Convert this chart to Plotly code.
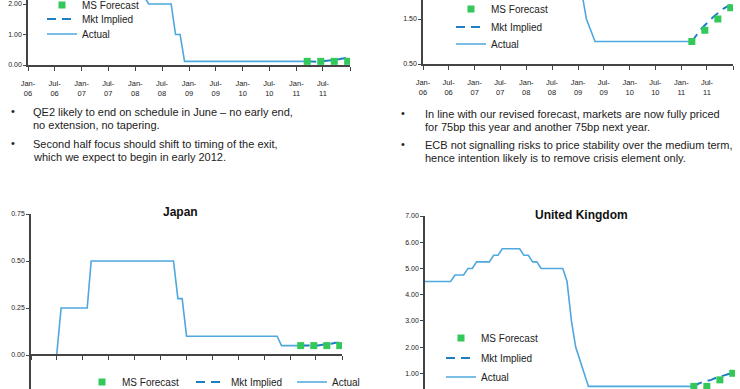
import pandas as pd
import plotly.graph_objects as go

W, H = 740, 389

# ---------------- data ----------------
actual_dates = [d.strftime("%Y-%m-%d") for d in pd.date_range("2006-01-01", "2011-03-01", freq="MS")]
forecast_dates = ["2011-03-16", "2011-06-16", "2011-09-16", "2011-12-16"]
mkt_dates = ["2011-03-16", "2011-04-16", "2011-05-16", "2011-06-16", "2011-07-16", "2011-08-16",
             "2011-09-16", "2011-10-16", "2011-11-16", "2011-12-16", "2012-01-01"]

tick_dates = ["2006-01-01", "2006-07-01", "2007-01-01", "2007-07-01", "2008-01-01", "2008-07-01",
              "2009-01-01", "2009-07-01", "2010-01-01", "2010-07-01", "2011-01-01", "2011-07-01",
              "2012-01-01"]
tick_labels = ["Jan-<br>06", "Jul-<br>06", "Jan-<br>07", "Jul-<br>07", "Jan-<br>08", "Jul-<br>08",
               "Jan-<br>09", "Jul-<br>09", "Jan-<br>10", "Jul-<br>10", "Jan-<br>11", "Jul-<br>11", ""]

us_actual = [4.50, 4.50, 4.75, 4.75, 5.00, 5.25, 5.25, 5.25, 5.25, 5.25, 5.25, 5.25,
             5.25, 5.25, 5.25, 5.25, 5.25, 5.25, 5.25, 5.25, 4.75, 4.50, 4.50, 4.25,
             3.00, 3.00, 2.25, 2.00, 2.00, 2.00, 2.00, 2.00, 2.00, 1.00, 1.00, 0.12,
             0.12, 0.12, 0.12, 0.12, 0.12, 0.12, 0.12, 0.12, 0.12, 0.12, 0.12, 0.12,
             0.12, 0.12, 0.12, 0.12, 0.12, 0.12, 0.12, 0.12, 0.12, 0.12, 0.12, 0.12,
             0.12, 0.12, 0.12]
us_forecast = [0.12, 0.12, 0.12, 0.12]
us_mkt = [0.12, 0.11, 0.11, 0.12, 0.13, 0.15, 0.17, 0.19, 0.21, 0.24, 0.27]

ea_actual = [2.25, 2.25, 2.50, 2.50, 2.50, 2.75, 2.75, 3.00, 3.00, 3.25, 3.25, 3.50,
             3.50, 3.50, 3.75, 3.75, 3.75, 4.00, 4.00, 4.00, 4.00, 4.00, 4.00, 4.00,
             4.00, 4.00, 4.00, 4.00, 4.00, 4.00, 4.25, 4.25, 4.25, 3.75, 3.25, 2.50,
             2.00, 2.00, 1.50, 1.25, 1.00, 1.00, 1.00, 1.00, 1.00, 1.00, 1.00, 1.00,
             1.00, 1.00, 1.00, 1.00, 1.00, 1.00, 1.00, 1.00, 1.00, 1.00, 1.00, 1.00,
             1.00, 1.00, 1.00]
ea_forecast = [1.00, 1.25, 1.50, 1.75]
ea_mkt = [1.00, 1.14, 1.26, 1.36, 1.46, 1.55, 1.63, 1.71, 1.77, 1.82, 1.84]

jp_actual = [0.00, 0.00, 0.00, 0.00, 0.00, 0.00, 0.00, 0.25, 0.25, 0.25, 0.25, 0.25,
             0.25, 0.25, 0.50, 0.50, 0.50, 0.50, 0.50, 0.50, 0.50, 0.50, 0.50, 0.50,
             0.50, 0.50, 0.50, 0.50, 0.50, 0.50, 0.50, 0.50, 0.50, 0.50, 0.30, 0.30,
             0.10, 0.10, 0.10, 0.10, 0.10, 0.10, 0.10, 0.10, 0.10, 0.10, 0.10, 0.10,
             0.10, 0.10, 0.10, 0.10, 0.10, 0.10, 0.10, 0.10, 0.10, 0.10, 0.05, 0.05,
             0.05, 0.05, 0.05]
jp_forecast = [0.05, 0.05, 0.05, 0.05]
jp_mkt = [0.05, 0.05, 0.05, 0.05, 0.05, 0.055, 0.06, 0.06, 0.065, 0.065, 0.07]

uk_actual = [4.50, 4.50, 4.50, 4.50, 4.50, 4.50, 4.50, 4.75, 4.75, 4.75, 5.00, 5.00,
             5.25, 5.25, 5.25, 5.25, 5.50, 5.50, 5.75, 5.75, 5.75, 5.75, 5.75, 5.50,
             5.50, 5.25, 5.25, 5.00, 5.00, 5.00, 5.00, 5.00, 5.00, 4.50, 3.00, 2.00,
             1.50, 1.00, 0.50, 0.50, 0.50, 0.50, 0.50, 0.50, 0.50, 0.50, 0.50, 0.50,
             0.50, 0.50, 0.50, 0.50, 0.50, 0.50, 0.50, 0.50, 0.50, 0.50, 0.50, 0.50,
             0.50, 0.50, 0.50]
uk_forecast = [0.50, 0.50, 0.75, 1.00]
uk_mkt = [0.50, 0.60, 0.66, 0.70, 0.75, 0.82, 0.88, 0.93, 0.97, 1.00, 1.02]

series_names = ["MS Forecast", "Mkt Implied", "Actual"]

bullets_left = [["QE2 likely to end on schedule in June \u2013 no early end,", "no extension, no tapering."],
                ["Second half focus should shift to timing of the exit,", "which we expect to begin in early 2012."]]
bullets_right = [["In line with our revised forecast, markets are now fully priced",
                  "for 75bp this year and another 75bp next year."],
                 ["ECB not signalling risks to price stability over the medium term,",
                  "hence intention likely is to remove crisis element only."]]
titles = {"jp": "Japan", "uk": "United Kingdom"}

# ---------------- styles ----------------
FONT = "Liberation Sans, Arial, sans-serif"
C_ACTUAL = "#4ea8de"
C_MKT = "#1f7fc4"
C_FC = "#33c85a"
C_AXIS = "#444444"
C_TEXT = "#222222"


def fx(p):
    return p / W


def fy(p):
    return 1 - p / H


fig = go.Figure()

panels = [
    dict(xa="x", ya="y", actual=us_actual, fc=us_forecast, mkt=us_mkt,
         legends=["legend", "legend2", "legend3"]),
    dict(xa="x2", ya="y2", actual=ea_actual, fc=ea_forecast, mkt=ea_mkt,
         legends=["legend4", "legend5", "legend6"]),
    dict(xa="x3", ya="y3", actual=jp_actual, fc=jp_forecast, mkt=jp_mkt,
         legends=["legend7", "legend8", "legend9"]),
    dict(xa="x4", ya="y4", actual=uk_actual, fc=uk_forecast, mkt=uk_mkt,
         legends=["legend10", "legend11", "legend12"]),
]

for p in panels:
    fig.add_trace(go.Scatter(x=actual_dates, y=p["actual"], mode="lines", name=series_names[2],
                             line=dict(color=C_ACTUAL, width=1.6), xaxis=p["xa"], yaxis=p["ya"],
                             legend=p["legends"][2]))
    fig.add_trace(go.Scatter(x=mkt_dates, y=p["mkt"], mode="lines", name=series_names[1],
                             line=dict(color=C_MKT, width=2, dash="9px,6px"), xaxis=p["xa"], yaxis=p["ya"],
                             legend=p["legends"][1]))
    fig.add_trace(go.Scatter(x=forecast_dates, y=p["fc"], mode="markers", name=series_names[0],
                             marker=dict(color=C_FC, size=7, symbol="square", line=dict(width=0)),
                             xaxis=p["xa"], yaxis=p["ya"], legend=p["legends"][0]))

x_range = ["2006-01-01", "2012-01-01"]


def xaxis(domain, anchor, show_labels=True, position=None):
    d = dict(domain=domain, range=x_range, type="date", tickvals=tick_dates, ticktext=tick_labels,
             showticklabels=show_labels, ticks="outside", ticklen=4, tickwidth=1, tickcolor=C_AXIS,
             showline=True, linecolor=C_AXIS, linewidth=1.5, showgrid=False, zeroline=False,
             tickfont=dict(size=7.5, color=C_TEXT, family=FONT), ticklabelstandoff=6, anchor=anchor)
    if position is not None:
        d["position"] = position
    return d


def yaxis(domain, rng, tick0, dtick, anchor):
    return dict(domain=domain, range=rng, tick0=tick0, dtick=dtick, tickformat=".2f",
                ticks="outside", ticklen=3, tickwidth=1, tickcolor=C_AXIS,
                showline=True, linecolor=C_AXIS, linewidth=1.5, showgrid=False, zeroline=False,
                tickfont=dict(size=7, color=C_TEXT, family=FONT), anchor=anchor)


def leg(x, y):
    return dict(x=fx(x), y=fy(y), xanchor="left", yanchor="middle", bgcolor="rgba(0,0,0,0)",
                borderwidth=0, font=dict(size=10, color=C_TEXT, family=FONT))


def txt(x, y, t, size=11, anchor="left", color=C_TEXT):
    return dict(x=fx(x), y=fy(y), xref="paper", yref="paper", text=t, showarrow=False,
                xanchor=anchor, yanchor="middle", align="left",
                font=dict(size=size, color=color, family=FONT))


annotations = []
# bullets: (lines, bullet x, text x, line y positions)
for blocks, bx, tx, ys in [(bullets_left, 13, 31, [[111.7, 125.0], [144.0, 157.3]]),
                           (bullets_right, 403, 423, [[114.0, 127.0], [145.0, 158.0]])]:
    for lines, yl in zip(blocks, ys):
        annotations.append(txt(bx, yl[0] - 1, "\u2022", anchor="center"))
        for line, y in zip(lines, yl):
            annotations.append(txt(tx, y, line))
annotations.append(txt(180, 212, "<b>%s</b>" % titles["jp"], size=12, anchor="center", color="#111111"))
annotations.append(txt(581, 215, "<b>%s</b>" % titles["uk"], size=12, anchor="center", color="#111111"))

fig.update_layout(
    width=W, height=H,
    margin=dict(l=0, r=0, t=0, b=0, pad=0, autoexpand=False),
    paper_bgcolor="white", plot_bgcolor="white",
    font=dict(family=FONT, size=10, color=C_TEXT),
    xaxis=xaxis([fx(28), fx(350)], "y"),
    yaxis=yaxis([fy(65), 1], [0, 65 / 30.5], 0, 1, "x"),
    xaxis2=xaxis([fx(423), fx(733)], "y2"),
    yaxis2=yaxis([fy(64), 1], [0.5, 0.5 + 64 / 45], 0.5, 1, "x2"),
    xaxis3=xaxis([fx(31), fx(342)], "free", show_labels=False, position=fy(355)),
    yaxis3=yaxis([0, fy(214)], [-34 / 188, 0.75], 0, 0.25, "x3"),
    xaxis4=dict(domain=[fx(425), fx(735)], range=x_range, type="date", visible=False, anchor="y4"),
    yaxis4=yaxis([0, fy(216)], [1 - 15.7 / 26.2, 7], 0, 1, "x4"),
    legend=leg(42, 5), legend2=leg(42, 19), legend3=leg(42, 34),
    legend4=leg(451, 9), legend5=leg(451, 27), legend6=leg(451, 44),
    legend7=leg(82, 382), legend8=leg(191, 382), legend9=leg(292, 382),
    legend10=leg(441, 338), legend11=leg(441, 358), legend12=leg(441, 377),
    annotations=annotations,
    showlegend=True,
)

fig.write_html("out.html", config={"displayModeBar": False},
               post_script="document.body.style.margin='0px';")
